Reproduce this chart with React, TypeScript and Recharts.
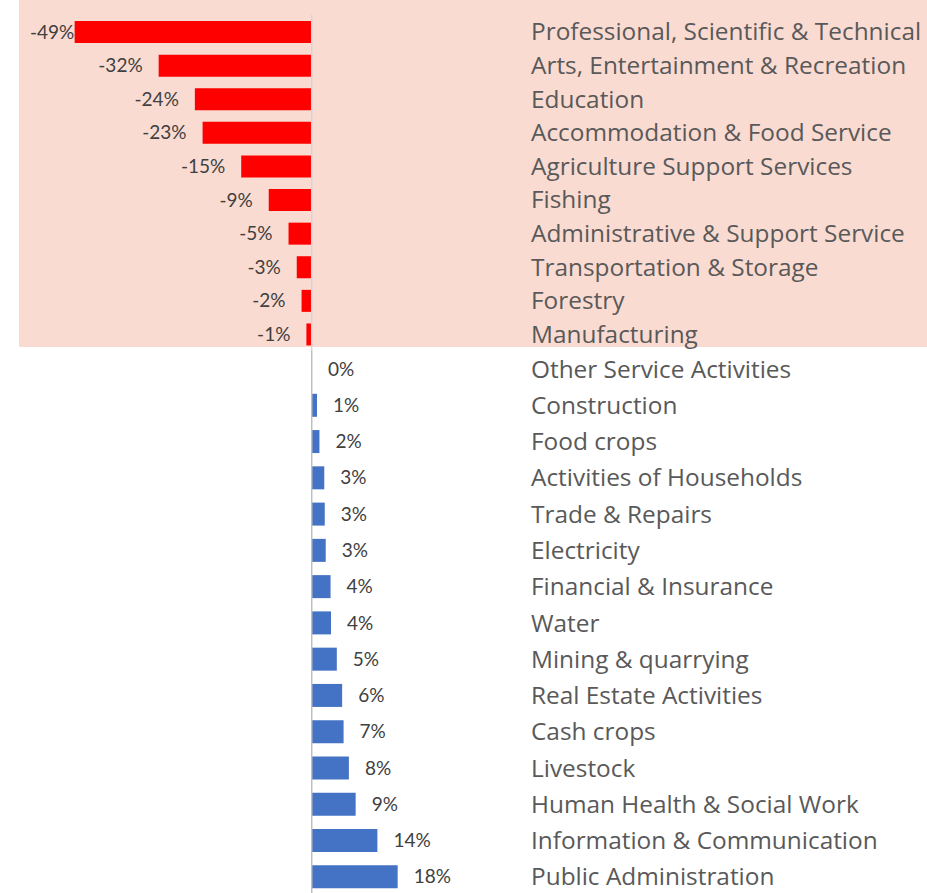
import { Bar, BarChart, LabelList, ReferenceLine, XAxis, YAxis } from "recharts"

// sectors that shrank (shown on the pink band)
const declineSectors = [
  "Professional, Scientific & Technical",
  "Arts, Entertainment & Recreation",
  "Education",
  "Accommodation & Food Service",
  "Agriculture Support Services",
  "Fishing",
  "Administrative & Support Service",
  "Transportation & Storage",
  "Forestry",
  "Manufacturing",
]
const declineValues = [-49.1, -31.7, -24.2, -22.6, -14.6, -8.9, -4.8, -3.1, -2.1, -1.1]

// sectors that grew
const growthSectors = [
  "Other Service Activities",
  "Construction",
  "Food crops",
  "Activities of Households",
  "Trade & Repairs",
  "Electricity",
  "Financial & Insurance",
  "Water",
  "Mining & quarrying",
  "Real Estate Activities",
  "Cash crops",
  "Livestock",
  "Human Health & Social Work",
  "Information & Communication",
  "Public Administration",
]
const growthValues = [0.04, 1.1, 1.6, 2.6, 2.7, 2.9, 3.9, 4.0, 5.2, 6.3, 6.6, 7.7, 9.1, 13.6, 17.8]

const xDomain = [-60, 45]
const FONT = "'Open Sans', sans-serif"
const VALUE_FONT = "Lato, sans-serif"

const CategoryTick = (props: any) => {
  const { y, payload } = props
  return (
    <text x={531} y={y} dy="0.35em" textAnchor="start" fill="#595959" fontSize={24.4} fontFamily={FONT}>
      {payload.value}
    </text>
  )
}

const ValueLabel = (props: any) => {
  const { x, y, width, height, value } = props
  const left = Math.min(x, x + width)
  const right = Math.max(x, x + width)
  const cy = y + height / 2
  const text = `${Math.round(value)}%`
  if (value < 0) {
    const est = text.length * 10.5
    // keep label inside the plot like Excel does
    if (left - 16 - est < 30) {
      return (
        <text x={30} y={cy} dy="0.35em" textAnchor="start" fill="#404040" fontSize={19} fontFamily={VALUE_FONT}>
          {text}
        </text>
      )
    }
    return (
      <text x={left - 16} y={cy} dy="0.35em" textAnchor="end" fill="#404040" fontSize={19} fontFamily={VALUE_FONT}>
        {text}
      </text>
    )
  }
  return (
    <text x={right + 16} y={cy} dy="0.35em" textAnchor="start" fill="#404040" fontSize={19} fontFamily={VALUE_FONT}>
      {text}
    </text>
  )
}

function Panel({ names, values, color, height, top, lineColor }: any) {
  const data = names.map((name: string, i: number) => ({ name, value: values[i] }))
  return (
    <BarChart
      layout="vertical"
      width={927}
      height={height}
      data={data}
      margin={{ top, right: 0, bottom: 0, left: 22 }}
      barCategoryGap="18%"
    >
      <XAxis type="number" domain={xDomain} hide allowDataOverflow />
      <YAxis
        type="category"
        dataKey="name"
        orientation="right"
        width={398}
        axisLine={false}
        tickLine={false}
        interval={0}
        tick={<CategoryTick />}
      />
      <ReferenceLine x={0} stroke={lineColor} strokeWidth={1.5} />
      <Bar dataKey="value" fill={color} isAnimationActive={false}>
        <LabelList dataKey="value" content={<ValueLabel />} />
      </Bar>
    </BarChart>
  )
}

export default function App() {
  return (
    <div
      style={{
        position: "absolute",
        left: 0,
        top: 0,
        width: 927,
        height: 893,
        overflow: "hidden",
        background: "#fff",
      }}
    >
      <div style={{ position: "absolute", left: 19, top: 0, width: 908, height: 347, background: "#FADBD2" }} />
      <div style={{ position: "absolute", left: 0, top: 0 }}>
        <Panel names={declineSectors} values={declineValues} color="#FF0000" height={351} top={15} lineColor="#D4D4D4" />
      </div>
      <div style={{ position: "absolute", left: 0, top: 351 }}>
        <Panel names={growthSectors} values={growthValues} color="#4472C4" height={544} top={0} lineColor="#BFBFBF" />
      </div>
    </div>
  )
}
